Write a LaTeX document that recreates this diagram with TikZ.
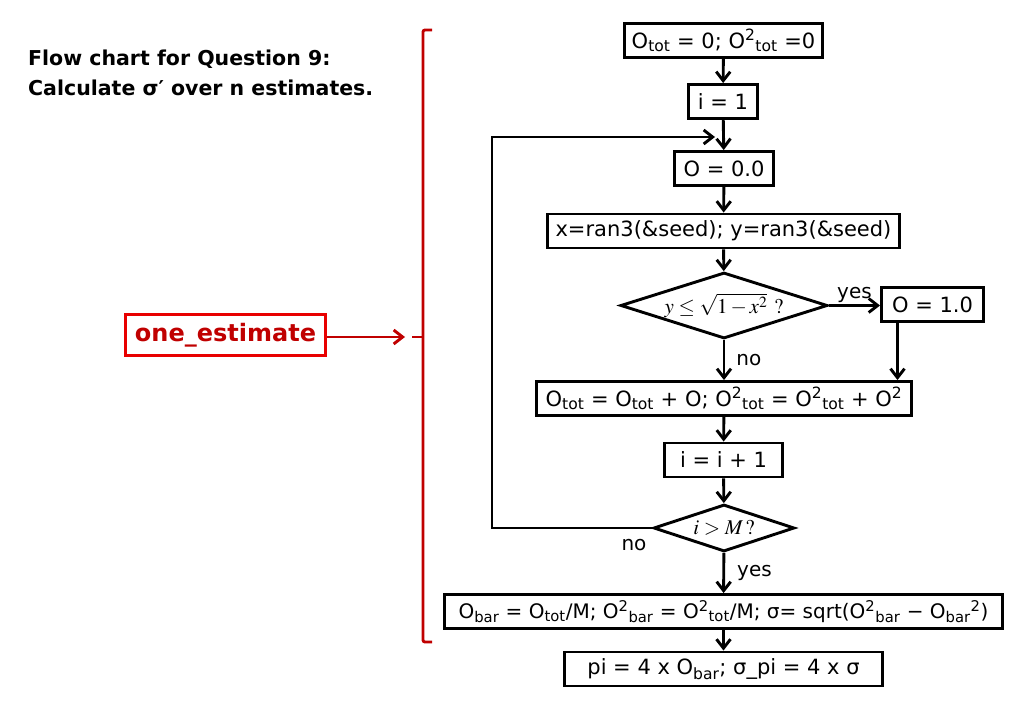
\documentclass[tikz,border=0pt]{standalone}
\usepackage{mathptmx}
\usepackage{fontspec}
\setmainfont{DejaVu Sans}
\usetikzlibrary{arrows.meta,shapes.geometric}
\definecolor{estred}{RGB}{192,0,0}
\definecolor{boxred}{RGB}{232,0,0}
\newcommand{\subtx}[1]{\textsubscript{#1}}
\newcommand{\suptx}[1]{\textsuperscript{#1}}
\tikzset{
	procbox/.style={draw, line width=2.9pt, inner sep=0pt, minimum height=34pt, font=\fontsize{21}{25}\selectfont},
	testbox/.style={draw, diamond, line width=2.9pt, inner sep=0pt, font=\fontsize{21}{24}\selectfont},
	flow/.style={line width=2.9pt, -{Straight Barb[length=9pt,width=14pt]}},
	lbl/.style={inner sep=0pt, font=\fontsize{20}{24}\selectfont},
}

\begin{document}
\begin{tikzpicture}[x=1pt, y=-1pt]
			%%%%% START %%%%%
			\useasboundingbox (0,0) rectangle (1023,708);
			
			\node[anchor=base west, inner sep=0pt, font=\bfseries\fontsize{20.5}{25}\selectfont] (title) at (28,66) {Flow chart for Question 9:};
			\node[anchor=base west, inner sep=0pt, font=\bfseries\fontsize{20.5}{25}\selectfont] (subtitle) at (28,96) {Calculate σ′ over n estimates.};
			
			\node[procbox, minimum width=198pt] (init) at (723.5,40.5) {O\subtx{tot} = 0; O\suptx{2}\subtx{tot} =0};
			\node[procbox, minimum width=69pt] (start) at (723,101.5) {i = 1};
			\node[procbox, minimum width=99pt] (zero) at (724,168.5) {O = 0.0};
			\node[procbox, minimum width=352pt] (rand) at (723.5,231) {x=ran3(\&seed); y=ran3(\&seed)};
			\node[testbox, minimum width=207pt, minimum height=66pt] (hit) at (724,305.5) {\makebox[0pt]{$y\leq\sqrt{1-x^{2}}\ \mathrm{?}$}};
			\node[procbox, minimum width=102pt] (one) at (932.5,304.5) {O = 1.0};
			\node[procbox, minimum width=375pt] (acc) at (724,398.5) {O\subtx{tot} = O\subtx{tot} + O; O\suptx{2}\subtx{tot} = O\suptx{2}\subtx{tot} + O\suptx{2}};
			\node[procbox, minimum width=118pt] (inc) at (723.5,460) {i = i + 1};
			\node[testbox, minimum width=141pt, minimum height=47pt] (done) at (724,528) {\makebox[0pt]{$i>M\,\mathrm{?}$}};
			\node[procbox, minimum width=558pt, font=\fontsize{20}{24}\selectfont] (stats) at (723.5,611.5) {O\subtx{bar} = O\subtx{tot}/M; O\suptx{2}\subtx{bar} = O\suptx{2}\subtx{tot}/M; σ= sqrt(O\suptx{2}\subtx{bar} − O\subtx{bar}\suptx{2})};
			\node[procbox, minimum width=318pt] (result) at (723.5,669) {pi = 4 x O\subtx{bar}; σ\_pi = 4 x σ};
			
			\draw[flow] (init) -- (start);
			\draw[flow] (start) -- (zero);
			\draw[flow] (zero) -- (rand);
			\draw[flow] (rand) -- (hit);
			\draw[flow] (hit) -- node[lbl, right=11pt] {no} (acc);
			\draw[flow] (hit.east) -- node[lbl, above=1pt] {yes} (one.west |- hit.east);
			\draw[flow] ([xshift=-35pt]one.south) -- ([xshift=-35pt]one.south |- acc.north);
			\draw[flow] (acc) -- (inc);
			\draw[flow] (inc) -- (done);
			\draw[flow] (done) -- node[lbl, right=12pt] {yes} (stats);
			\draw[flow] (stats) -- (result);
			
			\coordinate (back) at (492,528);
			\coordinate (join) at (724,137);
			\draw[flow, shorten >=9pt] (done.west) -- (back) |- (join);
			\node[lbl, anchor=center] (nolbl) at (634,545) {no};
			
			\node[draw=boxred, line width=2.9pt, text=estred, inner sep=0pt, minimum width=200pt, minimum height=41pt, font=\bfseries\fontsize{24}{28}\selectfont] (est) at (225.5,335) {one\_estimate};
			\coordinate (tick) at (412,337);
			\draw[estred, line width=2.9pt, shorten >=7pt, -{Straight Barb[length=9pt,width=14pt]}] (est.east |- tick) -- (tick);
			\draw[estred, line width=2.9pt, rounded corners=2pt] (432,30) -- (423,30) -- (423,642) -- (432,642);
			\draw[estred, line width=2.9pt] (tick) -- (423,337);
			
			%%%%% END %%%%%
\end{tikzpicture}
\end{document}
